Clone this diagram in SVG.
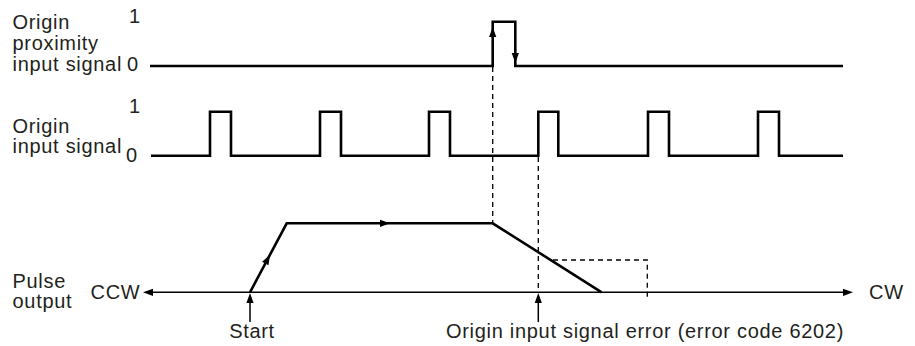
<svg xmlns="http://www.w3.org/2000/svg" xmlns:xlink="http://www.w3.org/1999/xlink" width="915" height="346" viewBox="0 0 915 346">
<style>
.t{font-family:"Liberation Sans",Arial,Helvetica,sans-serif;font-size:20px;letter-spacing:0.7px;fill:#231f20}
.sig{fill:none;stroke:#000;stroke-width:2.6;stroke-linejoin:miter;stroke-linecap:butt}
.ax{stroke:#000;stroke-width:1.5;fill:none}
.dash{stroke:#000;stroke-width:1.3;stroke-dasharray:5 4;fill:none}
.ah{fill:#000}
</style>
<defs>
<path id="ah" d="M0 0 L-10 -3.6 L-10 3.6Z"/>
</defs>
<rect width="915" height="346" fill="#fff"/>
<g id="labels">
<text class="t" x="12.5" y="29">Origin</text>
<text class="t" x="12.5" y="50">proximity</text>
<text class="t" x="12.5" y="71">input signal</text>
<text class="t" x="129" y="23">1</text>
<text class="t" x="127" y="71">0</text>
<text class="t" x="12.5" y="133">Origin</text>
<text class="t" x="12.5" y="153">input signal</text>
<text class="t" x="129" y="113">1</text>
<text class="t" x="126" y="162">0</text>
<text class="t" x="12.5" y="288">Pulse</text>
<text class="t" x="12.5" y="308">output</text>
<text class="t" x="90.5" y="299">CCW</text>
<text class="t" x="869" y="299">CW</text>
<text class="t" x="252" y="338" text-anchor="middle">Start</text>
<text class="t" x="446" y="338">Origin input signal error (error code 6202)</text>
</g>
<g id="proximity-signal">
<path class="sig" d="M150 66 H492.7 V21.7 H515.3 V66 H843"/>
<use href="#ah" class="ah" transform="translate(492.7,27) rotate(-90)"/>
<use href="#ah" class="ah" transform="translate(515.3,63) rotate(90)"/>
</g>
<g id="origin-signal">
<path class="sig" d="M151 155.7 H210 V111.7 H231 V155.7 H320 V111.7 H341 V155.7 H429 V111.7 H450 V155.7 H538.3 V111.7 H558.3 V155.7 H648 V111.7 H669 V155.7 H758 V111.7 H779 V155.7 H843"/>
</g>
<g id="pulse-output">
<line class="ax" x1="150" y1="292.3" x2="846" y2="292.3"/>
<use href="#ah" class="ah" transform="translate(143,292.3) rotate(180)"/>
<use href="#ah" class="ah" transform="translate(853,292.3)"/>
<path class="sig" d="M250 292.3 L286.7 223.3 H492.7 L601.7 292.3"/>
<use href="#ah" class="ah" transform="translate(270,254.7) rotate(-62)"/>
<use href="#ah" class="ah" transform="translate(390,223.3)"/>
</g>
<g id="connectors">
<path class="dash" d="M492.7 67 V223"/>
<path class="dash" d="M538.3 157 V292"/>
<path class="dash" d="M553 260 H647.3 V297"/>
<line class="ax" x1="250" y1="322" x2="250" y2="300"/>
<use href="#ah" class="ah" transform="translate(250,293) rotate(-90)"/>
<line class="ax" x1="538.3" y1="322" x2="538.3" y2="300"/>
<use href="#ah" class="ah" transform="translate(538.3,293) rotate(-90)"/>
</g>
</svg>
